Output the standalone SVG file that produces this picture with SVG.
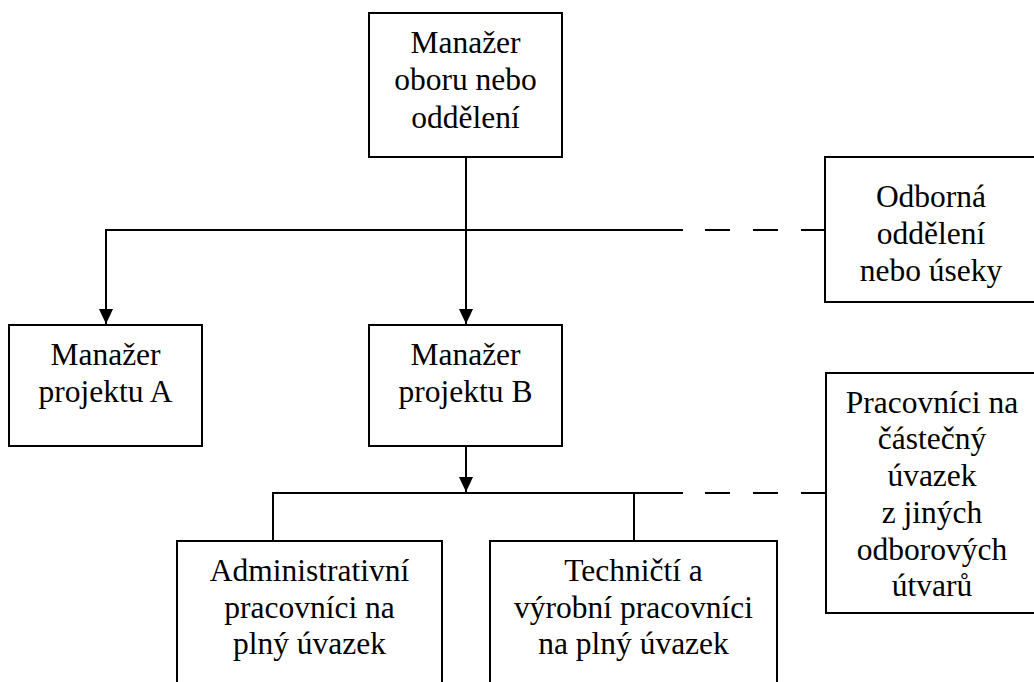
<svg xmlns="http://www.w3.org/2000/svg" width="1034" height="682" viewBox="0 0 1034 682">
<style>
.box{fill:#fff;stroke:#000;stroke-width:2}
.t{font-family:"Liberation Serif","Times New Roman",serif;font-size:31.5px;fill:#000;text-anchor:middle}
.ln{fill:none;stroke:#000;stroke-width:2}
.dash{fill:none;stroke:#000;stroke-width:2;stroke-dasharray:25 23}
</style>
<defs>
<marker id="arr" markerUnits="userSpaceOnUse" markerWidth="16" markerHeight="14" refX="15" refY="7" orient="auto">
<path d="M0,0 L15,7 L0,14 Z" fill="#000"/>
</marker>
</defs>
<rect width="1034" height="682" fill="#fff"/>
<g id="connectors">
<line class="ln" x1="466" y1="157" x2="466" y2="324" marker-end="url(#arr)"/>
<polyline class="ln" points="683,230 106,230 106,324" marker-end="url(#arr)"/>
<line class="dash" x1="705" y1="230" x2="825" y2="230"/>
<line class="ln" x1="466" y1="446" x2="466" y2="492" marker-end="url(#arr)"/>
<line class="ln" x1="272" y1="493" x2="683" y2="493"/>
<line class="dash" x1="705" y1="493" x2="826" y2="493"/>
<line class="ln" x1="273" y1="493" x2="273" y2="541"/>
<line class="ln" x1="634" y1="493" x2="634" y2="541"/>
</g>
<g id="n-top">
<rect class="box" x="369" y="13" width="193" height="144"/>
<text class="t" x="465.5" y="53">Manažer</text>
<text class="t" x="465.5" y="90">oboru nebo</text>
<text class="t" x="465.5" y="128">oddělení</text>
</g>
<g id="n-odborna">
<rect class="box" x="825" y="157" width="212" height="145"/>
<text class="t" x="931" y="207">Odborná</text>
<text class="t" x="931" y="244">oddělení</text>
<text class="t" x="931" y="281">nebo úseky</text>
</g>
<g id="n-a">
<rect class="box" x="9" y="325" width="193" height="121"/>
<text class="t" x="105.5" y="365">Manažer</text>
<text class="t" x="105.5" y="402">projektu A</text>
</g>
<g id="n-b">
<rect class="box" x="369" y="325" width="193" height="121"/>
<text class="t" x="465.5" y="365">Manažer</text>
<text class="t" x="465.5" y="402">projektu B</text>
</g>
<g id="n-pracovnici">
<rect class="box" x="826" y="373" width="212" height="240"/>
<text class="t" x="932" y="412.5">Pracovníci na</text>
<text class="t" x="932" y="449.3">částečný</text>
<text class="t" x="932" y="486">úvazek</text>
<text class="t" x="932" y="522.8">z jiných</text>
<text class="t" x="932" y="559.6">odborových</text>
<text class="t" x="932" y="596.4">útvarů</text>
</g>
<g id="n-admin">
<rect class="box" x="177" y="541" width="265" height="160"/>
<text class="t" x="309.5" y="581">Administrativní</text>
<text class="t" x="309.5" y="617.5">pracovníci na</text>
<text class="t" x="309.5" y="654">plný úvazek</text>
</g>
<g id="n-tech">
<rect class="box" x="490" y="541" width="287" height="160"/>
<text class="t" x="633.5" y="581">Techničtí a</text>
<text class="t" x="633.5" y="617.5">výrobní pracovníci</text>
<text class="t" x="633.5" y="654">na plný úvazek</text>
</g>
</svg>
